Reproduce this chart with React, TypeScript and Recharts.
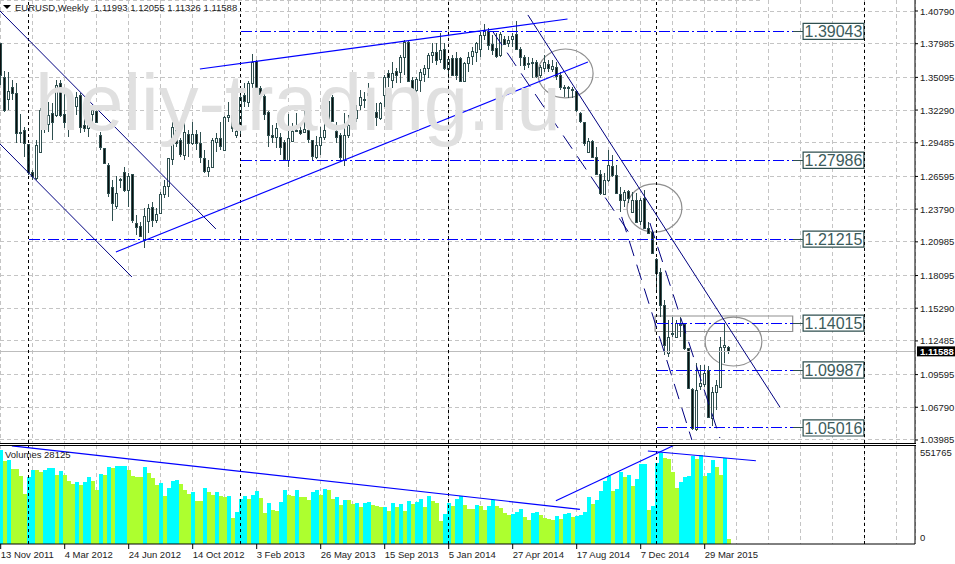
import React from 'react';
import {
  ComposedChart, Bar, XAxis, YAxis, CartesianGrid, ReferenceLine, ReferenceArea
} from 'recharts';

const opens = [1.3804, 1.3513, 1.3324, 1.3427, 1.3375, 1.3041, 1.3058, 1.2938, 1.2698, 1.2646, 1.2869, 1.3212, 1.3109, 1.3204, 1.3187, 1.3461, 1.3195, 1.3161, 1.3161, 1.3264, 1.3358, 1.3101, 1.3075, 1.3195, 1.3221, 1.3015, 1.2903, 1.2758, 1.2569, 1.2406, 1.2638, 1.2698, 1.2543, 1.2681, 1.2260, 1.2234, 1.2114, 1.2277, 1.2397, 1.2286, 1.2346, 1.2509, 1.2578, 1.2809, 1.3058, 1.2972, 1.2843, 1.3024, 1.2946, 1.3024, 1.2946, 1.2818, 1.2706, 1.2741, 1.2955, 1.2989, 1.2886, 1.3170, 1.3187, 1.3015, 1.3075, 1.3358, 1.3298, 1.3461, 1.3650, 1.3418, 1.3350, 1.3212, 1.3015, 1.2998, 1.2998, 1.2955, 1.2801, 1.2964, 1.3049, 1.3058, 1.3041, 1.3058, 1.2972, 1.2826, 1.2929, 1.2998, 1.3101, 1.3341, 1.3049, 1.3015, 1.2801, 1.3015, 1.3101, 1.3161, 1.3272, 1.3324, 1.3358, 1.3315, 1.3212, 1.3161, 1.3358, 1.3547, 1.3487, 1.3564, 1.3556, 1.3684, 1.3813, 1.3487, 1.3401, 1.3487, 1.3538, 1.3590, 1.3702, 1.3727, 1.3667, 1.3753, 1.3581, 1.3676, 1.3676, 1.3676, 1.3478, 1.3633, 1.3693, 1.3727, 1.3753, 1.3873, 1.3907, 1.3796, 1.3762, 1.3702, 1.3839, 1.3804, 1.3839, 1.3882, 1.3753, 1.3684, 1.3633, 1.3641, 1.3641, 1.3530, 1.3590, 1.3624, 1.3581, 1.3599, 1.3530, 1.3427, 1.3427, 1.3410, 1.3393, 1.3204, 1.3127, 1.2869, 1.2964, 1.2826, 1.2681, 1.2509, 1.2629, 1.2749, 1.2672, 1.2509, 1.2457, 1.2535, 1.2355, 1.2457, 1.2277, 1.2475, 1.2217, 1.2183, 1.1951, 1.1840, 1.1557, 1.1145, 1.1308, 1.1282, 1.1394, 1.1394, 1.1188, 1.0836, 1.0493, 1.0861, 1.0879, 1.0999, 1.0587, 1.0810, 1.0853, 1.1196, 1.11993];
const highs = [1.3804, 1.3564, 1.3556, 1.3487, 1.3461, 1.3195, 1.3084, 1.2938, 1.2715, 1.2972, 1.3247, 1.3290, 1.3298, 1.3290, 1.3487, 1.3487, 1.3375, 1.3204, 1.3230, 1.3384, 1.3375, 1.3170, 1.3204, 1.3272, 1.3230, 1.3041, 1.2903, 1.2775, 1.2629, 1.2663, 1.2646, 1.2741, 1.2689, 1.2681, 1.2329, 1.2269, 1.2389, 1.2423, 1.2440, 1.2389, 1.2526, 1.2629, 1.2818, 1.3127, 1.3075, 1.2989, 1.3127, 1.3058, 1.3127, 1.3058, 1.3041, 1.2886, 1.2801, 1.2989, 1.3032, 1.3127, 1.3178, 1.3298, 1.3212, 1.3187, 1.3358, 1.3461, 1.3478, 1.3710, 1.3659, 1.3436, 1.3375, 1.3221, 1.3101, 1.3118, 1.3032, 1.2972, 1.3195, 1.3118, 1.3204, 1.3092, 1.3221, 1.3075, 1.2972, 1.3006, 1.3084, 1.3144, 1.3341, 1.3358, 1.3127, 1.3032, 1.3204, 1.3187, 1.3212, 1.3272, 1.3401, 1.3384, 1.3461, 1.3333, 1.3290, 1.3298, 1.3530, 1.3573, 1.3641, 1.3590, 1.3702, 1.3830, 1.3822, 1.3513, 1.3513, 1.3581, 1.3616, 1.3719, 1.3804, 1.3804, 1.3890, 1.3804, 1.3684, 1.3702, 1.3727, 1.3684, 1.3641, 1.3727, 1.3770, 1.3813, 1.3899, 1.3967, 1.3933, 1.3873, 1.3890, 1.3899, 1.3865, 1.3865, 1.3890, 1.3993, 1.3770, 1.3702, 1.3684, 1.3676, 1.3659, 1.3616, 1.3702, 1.3659, 1.3659, 1.3641, 1.3556, 1.3444, 1.3436, 1.3427, 1.3401, 1.3212, 1.3127, 1.2989, 1.2972, 1.2912, 1.2715, 1.2689, 1.2886, 1.2843, 1.2758, 1.2569, 1.2543, 1.2543, 1.2526, 1.2518, 1.2475, 1.2543, 1.2269, 1.2200, 1.1960, 1.1874, 1.1599, 1.1428, 1.1454, 1.1428, 1.1454, 1.1402, 1.1188, 1.0844, 1.1059, 1.1042, 1.1042, 1.1033, 1.0853, 1.0913, 1.1282, 1.1402, 1.12055];
const lows = [1.3444, 1.3212, 1.3230, 1.3315, 1.2946, 1.2946, 1.2826, 1.2672, 1.2629, 1.2629, 1.2861, 1.3032, 1.3041, 1.2972, 1.3170, 1.3170, 1.3075, 1.2998, 1.3144, 1.3187, 1.3032, 1.3041, 1.2998, 1.3118, 1.3118, 1.2886, 1.2766, 1.2483, 1.2277, 1.2380, 1.2560, 1.2526, 1.2397, 1.2260, 1.2157, 1.2140, 1.2046, 1.2174, 1.2226, 1.2260, 1.2337, 1.2475, 1.2483, 1.2758, 1.2912, 1.2826, 1.2801, 1.2826, 1.2929, 1.2886, 1.2775, 1.2689, 1.2655, 1.2732, 1.2869, 1.2886, 1.2878, 1.3127, 1.3041, 1.2989, 1.2998, 1.3255, 1.3255, 1.3418, 1.3418, 1.3333, 1.3144, 1.2912, 1.2946, 1.2903, 1.2843, 1.2801, 1.2741, 1.2955, 1.3041, 1.3015, 1.3032, 1.2946, 1.2801, 1.2809, 1.2843, 1.2972, 1.3075, 1.3127, 1.2946, 1.2801, 1.2749, 1.2989, 1.3084, 1.3127, 1.3230, 1.3247, 1.3315, 1.3247, 1.3092, 1.3144, 1.3255, 1.3427, 1.3418, 1.3461, 1.3461, 1.3530, 1.3470, 1.3384, 1.3375, 1.3384, 1.3470, 1.3504, 1.3633, 1.3616, 1.3633, 1.3573, 1.3504, 1.3521, 1.3487, 1.3470, 1.3470, 1.3556, 1.3616, 1.3641, 1.3684, 1.3830, 1.3744, 1.3702, 1.3676, 1.3684, 1.3787, 1.3770, 1.3770, 1.3744, 1.3607, 1.3573, 1.3590, 1.3504, 1.3504, 1.3504, 1.3556, 1.3556, 1.3556, 1.3487, 1.3401, 1.3341, 1.3333, 1.3333, 1.3212, 1.3118, 1.2921, 1.2861, 1.2818, 1.2672, 1.2500, 1.2500, 1.2612, 1.2655, 1.2509, 1.2355, 1.2397, 1.2432, 1.2346, 1.2269, 1.2243, 1.2217, 1.2174, 1.1994, 1.1685, 1.1454, 1.1128, 1.1110, 1.1282, 1.1273, 1.1282, 1.1170, 1.0836, 1.0484, 1.0475, 1.0827, 1.0853, 1.0587, 1.0518, 1.0656, 1.0844, 1.1059, 1.11326];
const closes = [1.3530, 1.3230, 1.3393, 1.3375, 1.3032, 1.3032, 1.2946, 1.2698, 1.2663, 1.2929, 1.3230, 1.3187, 1.3187, 1.3127, 1.3444, 1.3187, 1.3127, 1.3161, 1.3212, 1.3341, 1.3084, 1.3075, 1.3101, 1.3230, 1.3127, 1.2912, 1.2775, 1.2518, 1.2432, 1.2518, 1.2636, 1.2543, 1.2663, 1.2286, 1.2226, 1.2149, 1.2320, 1.2389, 1.2286, 1.2337, 1.2509, 1.2578, 1.2818, 1.3084, 1.2946, 1.2852, 1.3041, 1.2946, 1.3024, 1.2946, 1.2826, 1.2706, 1.2741, 1.2972, 1.2989, 1.2921, 1.3170, 1.3187, 1.3075, 1.3049, 1.3341, 1.3307, 1.3461, 1.3641, 1.3418, 1.3367, 1.3195, 1.3015, 1.2998, 1.3075, 1.2912, 1.2809, 1.2989, 1.3049, 1.3058, 1.3032, 1.3067, 1.2981, 1.2835, 1.2929, 1.2998, 1.3058, 1.3307, 1.3135, 1.2998, 1.2826, 1.3015, 1.3101, 1.3161, 1.3230, 1.3341, 1.3322, 1.3375, 1.3272, 1.3170, 1.3290, 1.3513, 1.3513, 1.3547, 1.3530, 1.3684, 1.3813, 1.3478, 1.3418, 1.3496, 1.3556, 1.3590, 1.3702, 1.3727, 1.3659, 1.3744, 1.3590, 1.3667, 1.3530, 1.3530, 1.3478, 1.3633, 1.3684, 1.3736, 1.3804, 1.3873, 1.3916, 1.3787, 1.3744, 1.3693, 1.3882, 1.3796, 1.3830, 1.3865, 1.3753, 1.3684, 1.3616, 1.3624, 1.3633, 1.3521, 1.3599, 1.3641, 1.3590, 1.3607, 1.3521, 1.3427, 1.3418, 1.3418, 1.3401, 1.3230, 1.3135, 1.2946, 1.2964, 1.2826, 1.2681, 1.2518, 1.2629, 1.2758, 1.2672, 1.2518, 1.2457, 1.2526, 1.2475, 1.2457, 1.2269, 1.2457, 1.2217, 1.2174, 1.2003, 1.1831, 1.1557, 1.1213, 1.1282, 1.1316, 1.1402, 1.1392, 1.1188, 1.0844, 1.0501, 1.0827, 1.0887, 1.0973, 1.0596, 1.0810, 1.0870, 1.1196, 1.1213, 1.11588];

const volumes = [565000, 498000, 509000, 454000, 453000, 408000, 304000, 402000, 448000, 444000, 432000, 448000, 460000, 461000, 418000, 440000, 418000, 382000, 364000, 376000, 358000, 376000, 404000, 382000, 328000, 424000, 418000, 464000, 460000, 468000, 472000, 473000, 448000, 412000, 404000, 403000, 466000, 428000, 398000, 358000, 368000, 291000, 338000, 378000, 388000, 362000, 328000, 304000, 312000, 261000, 260000, 338000, 316000, 297000, 312000, 291000, 281000, 287000, 159000, 191000, 273000, 291000, 273000, 297000, 322000, 277000, 187000, 247000, 207000, 201000, 255000, 328000, 297000, 291000, 328000, 285000, 281000, 267000, 316000, 328000, 297000, 329000, 328000, 273000, 285000, 237000, 267000, 266000, 243000, 249000, 225000, 249000, 255000, 237000, 231000, 225000, 226000, 201000, 249000, 225000, 243000, 201000, 261000, 243000, 255000, 273000, 223000, 291000, 261000, 249000, 141000, 183000, 249000, 231000, 273000, 287000, 237000, 213000, 212000, 237000, 231000, 207000, 231000, 267000, 231000, 217000, 187000, 177000, 183000, 195000, 213000, 165000, 147000, 189000, 190000, 177000, 159000, 153000, 147000, 171000, 153000, 183000, 184000, 163000, 171000, 177000, 195000, 285000, 243000, 267000, 322000, 382000, 412000, 322000, 334000, 436000, 406000, 418000, 352000, 394000, 482000, 483000, 207000, 231000, 490000, 551765, 521000, 515000, 436000, 340000, 376000, 406000, 412000, 533000, 515000, 537000, 412000, 430000, 509000, 466000, 418000, 521000, 28125];
// c = volume rose on the week before, l = it fell
const volumeKinds = [
  'clcllllccl', 'lccclclllc', 'lccllclclc', 'ccllllclll', 'clccclllcl',
  'lcllcllclc', 'cclccllcll', 'ccllclllcc', 'lcllclcllc', 'lcclllclcl',
  'clclcclcll', 'lcclcclllc', 'llccllllcc', 'cllccllllc', 'lcclcccclc',
  'ccclcclclc', 'cclcccllll', 'cccclclccl', 'lcl',
].join('').split('');

const dateLabels = ['13 Nov 2011', '4 Mar 2012', '24 Jun 2012', '14 Oct 2012', '3 Feb 2013', '26 May 2013', '15 Sep 2013', '5 Jan 2014', '27 Apr 2014', '17 Aug 2014', '7 Dec 2014', '29 Mar 2015'];
const dateTicks = [0, 16, 32, 48, 64, 80, 96, 112, 128, 144, 160, 176];
const gridTicks = [0, 8, 16, 24, 32, 40, 48, 56, 64, 72, 80, 88, 96, 104, 112, 120, 128, 136, 144, 152, 160, 168, 176, 184, 192, 200, 208, 216, 224];
const yearBreaks = [7, 60, 112, 164, 216];
const priceTicks = [1.4079, 1.37985, 1.35095, 1.3229, 1.29485, 1.26595, 1.2379, 1.20985, 1.18095, 1.1529, 1.12485, 1.09595, 1.0679, 1.03985];
const lastPrice = 1.11588;

const levelPrices = [1.39043, 1.27986, 1.21215, 1.14015, 1.09987, 1.05016];
const levelStarts = [60, 60, 7, 164, 164, 164];

const priceTrends = [
  { x1: -0.17, y1: 1.4079, x2: 53.8, y2: 1.2209 },
  { x1: -0.17, y1: 1.2938, x2: 32.8, y2: 1.1797 },
  { x1: 131.8, y1: 1.4045, x2: 194.8, y2: 1.0681 },
];
const boldTrends = [
  { x1: 28.8, y1: 1.2011, x2: 146.8, y2: 1.3641 },
  { x1: 49.8, y1: 1.3581, x2: 141.7, y2: 1.401 },
];
const dashedTrends = [
  { x1: 123.1, y1: 1.3899, x2: 157.8, y2: 1.214 },
  { x1: 155.25, y1: 1.2312, x2: 172.8, y2: 1.0398 },
  { x1: 162.3, y1: 1.226, x2: 179.8, y2: 1.0415 },
];
const volumeTrends = [
  { x1: 2.8, y1: 592000, x2: 144.8, y2: 209000 },
  { x1: 138.8, y1: 261000, x2: 168.1, y2: 593000 },
  { x1: 161.8, y1: 561000, x2: 188.8, y2: 502000 },
];
const circles = [
  { x1: 134.3, y1: 1.3753, x2: 148.1, y2: 1.3333 },
  { x1: 156.6, y1: 1.2595, x2: 170.3, y2: 1.2183 },
  { x1: 176.1, y1: 1.1453, x2: 190.3, y2: 1.1033 },
];

const FONT = '"Liberation Sans", Arial, sans-serif';
const X_DOMAIN: [number, number] = [-0.175, 228.575];
const CANDLE = '#2f4f4f';
const BLUE = '#0000ff';
const NAVY = '#000080';

const rows = opens.map((open, i) => ({
  idx: i,
  open,
  close: closes[i],
  high: highs[i],
  low: lows[i],
  range: [lows[i], highs[i]],
  volume: volumes[i],
  kind: volumeKinds[i],
}));

const Candle = (props: any) => {
  const { x, y, width, height, payload } = props;
  const { open, close, high, low } = payload;
  const cx = Math.floor(x + width / 2) + 0.5;
  const yOf = (p: number) => y + ((high - p) / (high - low)) * height;
  const top = Math.round(yOf(Math.max(open, close))) + 0.5;
  const bottom = Math.round(yOf(Math.min(open, close))) + 0.5;
  const up = close > open;
  return (
    <g shapeRendering="crispEdges">
      <line x1={cx} x2={cx} y1={y} y2={y + height} stroke={CANDLE} />
      <rect x={cx - 1} y={top} width={2} height={Math.max(bottom - top, 1)} fill={up ? '#fff' : '#0a0f0f'} stroke={CANDLE} />
    </g>
  );
};

const VolumeBar = (props: any) => {
  const { x, y, width, height, payload } = props;
  const left = Math.floor(x + width / 2) - 1;
  return (
    <rect
      x={left}
      y={y}
      width={4}
      height={height}
      fill={payload.kind === 'c' ? '#00ffff' : '#adff2f'}
      shapeRendering="crispEdges"
    />
  );
};

const Ellipse = (props: any) => {
  const { x, y, width, height } = props;
  return (
    <ellipse cx={x + width / 2} cy={y + height / 2} rx={width / 2} ry={height / 2} fill="none" stroke="#8f8f8f" strokeWidth={1.2} />
  );
};

const PriceTick = (props: any) => {
  const { x, y, payload } = props;
  if (payload.value === lastPrice) {
    return (
      <g fontFamily={FONT} fontSize={9.5}>
        <rect x={x - 3} y={y - 5} width={40} height={10} fill="#000" />
        <text x={x} y={y + 3.5} fill="#fff" fontWeight="bold">{payload.value.toFixed(5)}</text>
      </g>
    );
  }
  return (
    <g fontFamily={FONT} fontSize={9.5}>
      <line x1={x - 5} x2={x - 2} y1={y} y2={y} stroke="#000" />
      <text x={x} y={y + 3.5} fill="#222">{payload.value.toFixed(5)}</text>
    </g>
  );
};

const VolumeTick = (props: any) => {
  const { x, y, payload } = props;
  return (
    <text x={x} y={payload.value === 0 ? y - 3 : y + 3.5} fill="#222" fontFamily={FONT} fontSize={9.5}>
      {payload.value}
    </text>
  );
};

const DateTick = (props: any) => {
  const { x, y, payload } = props;
  const at = dateTicks.indexOf(payload.value);
  if (at < 0) return null;
  return (
    <g fontFamily={FONT} fontSize={9.5}>
      <line x1={x} x2={x} y1={y - 8} y2={y - 3} stroke="#000" />
      <text x={x} y={y + 6} fill="#222">{dateLabels[at]}</text>
    </g>
  );
};

export default function App() {
  return (
    <div style={{ position: 'absolute', left: 0, top: 0, width: 955, height: 564, background: '#fff', overflow: 'hidden' }}>
      <div style={{ position: 'absolute', left: 0, top: 0 }}>
        <ComposedChart width={955} height={451} data={rows} margin={{ top: 0, right: 0, bottom: 8, left: 0 }} barGap={0}>
          <CartesianGrid stroke="#c4c4c4" strokeDasharray="4 3" shapeRendering="crispEdges" />
          <XAxis dataKey="idx" type="number" domain={X_DOMAIN} ticks={gridTicks} allowDataOverflow hide />
          <YAxis
            orientation="right"
            width={40}
            domain={[1.03725, 1.41734]}
            ticks={[...priceTicks, lastPrice]}
            allowDataOverflow
            interval={0}
            tick={<PriceTick />}
            tickSize={3}
            tickMargin={2}
            tickLine={false}
            axisLine={{ stroke: '#000' }}
          />
          <ReferenceLine y={lastPrice} stroke="#bdbdbd" shapeRendering="crispEdges" />
          {yearBreaks.map((x) => (
            <ReferenceLine key={x} x={x} stroke="#000" strokeDasharray="3 3" shapeRendering="crispEdges" />
          ))}
          {levelPrices.map((price, i) => (
            <ReferenceLine
              key={`lv${i}`}
              segment={[{ x: levelStarts[i], y: price }, { x: 198, y: price }]}
              stroke={BLUE}
              strokeDasharray="11 3 2 3"
              shapeRendering="crispEdges"
            />
          ))}
          {levelPrices.map((price) => (
            <ReferenceLine
              key={`st${price}`}
              segment={[{ x: 198, y: price }, { x: 200.6, y: price }]}
              stroke={CANDLE}
              shapeRendering="crispEdges"
            />
          ))}
          {priceTrends.map((t, i) => (
            <ReferenceLine key={`pt${i}`} segment={[{ x: t.x1, y: t.y1 }, { x: t.x2, y: t.y2 }]} stroke={NAVY} />
          ))}
          {boldTrends.map((t, i) => (
            <ReferenceLine key={`bt${i}`} segment={[{ x: t.x1, y: t.y1 }, { x: t.x2, y: t.y2 }]} stroke={BLUE} strokeWidth={1.15} />
          ))}
          {dashedTrends.map((t, i) => (
            <ReferenceLine key={`dt${i}`} segment={[{ x: t.x1, y: t.y1 }, { x: t.x2, y: t.y2 }]} stroke={NAVY} strokeDasharray="16 9" />
          ))}
          <ReferenceArea x1={163.6} x2={198} y1={1.1329} y2={1.1462} fill="none" stroke="#8f8f8f" strokeWidth={1.2} />
          {circles.map((c, i) => (
            <ReferenceArea key={`c${i}`} x1={c.x1} x2={c.x2} y1={c.y1} y2={c.y2} shape={<Ellipse />} />
          ))}
          {levelPrices.map((price) => (
            <ReferenceArea
              key={`box${price}`}
              x1={200.6}
              x2={215.8}
              y1={price - 0.0069}
              y2={price + 0.0069}
              fill="#fff"
              fillOpacity={1}
              stroke={CANDLE}
              strokeWidth={1.2}
              label={{ value: price.toFixed(5), position: 'center', fontSize: 16, fill: '#3c5c5c', fontFamily: FONT }}
            />
          ))}
          <Bar dataKey="range" barSize={3} shape={<Candle />} isAnimationActive={false} />
        </ComposedChart>
      </div>

      <div style={{ position: 'absolute', left: 0, top: 445 }}>
        <ComposedChart width={955} height={119} data={rows} margin={{ top: 0, right: 0, bottom: 0, left: 0 }}>
          <CartesianGrid stroke="#c4c4c4" strokeDasharray="4 3" horizontal={false} shapeRendering="crispEdges" />
          <XAxis
            dataKey="idx"
            type="number"
            domain={X_DOMAIN}
            ticks={gridTicks}
            allowDataOverflow
            interval={0}
            height={20}
            tick={<DateTick />}
            tickLine={false}
            axisLine={{ stroke: '#000' }}
          />
          <YAxis
            orientation="right"
            width={40}
            domain={[0, 597000]}
            ticks={[0, 551765]}
            allowDataOverflow
            interval={0}
            tick={<VolumeTick />}
            tickSize={3}
            tickMargin={2}
            tickLine={false}
            axisLine={{ stroke: '#000' }}
          />
          {yearBreaks.map((x) => (
            <ReferenceLine key={x} x={x} stroke="#000" strokeDasharray="3 3" shapeRendering="crispEdges" />
          ))}
          <Bar dataKey="volume" barSize={4} shape={<VolumeBar />} isAnimationActive={false} />
          {volumeTrends.map((t, i) => (
            <ReferenceLine key={`vt${i}`} segment={[{ x: t.x1, y: t.y1 }, { x: t.x2, y: t.y2 }]} stroke={BLUE} strokeWidth={1.15} />
          ))}
        </ComposedChart>
      </div>

      <div style={{ position: 'absolute', left: 0, top: 443, width: 916, height: 1, background: '#000' }} />
      <div style={{ position: 'absolute', left: 0, top: 445, width: 916, height: 1, background: '#000' }} />

      {/* the watermark lies over lines and candles alike */}
      <div style={{ position: 'absolute', left: 35, top: 63, font: `79.5px/1 ${FONT}`, color: '#e0e0e0', whiteSpace: 'nowrap' }}>
        heliy-trading.ru
      </div>

      <div style={{ position: 'absolute', left: 3, top: 5, width: 0, height: 0, borderLeft: '4px solid transparent', borderRight: '4px solid transparent', borderTop: '4px solid #000' }} />
      <div style={{ position: 'absolute', left: 15, top: 2, font: `9.5px/11px ${FONT}`, color: '#222', whiteSpace: 'pre' }}>
        EURUSD,Weekly  1.11993 1.12055 1.11326 1.11588
      </div>
      <div style={{ position: 'absolute', left: 5, top: 449, font: `9.5px/11px ${FONT}`, color: '#222', whiteSpace: 'pre' }}>
        Volumes 28125
      </div>
    </div>
  );
}
